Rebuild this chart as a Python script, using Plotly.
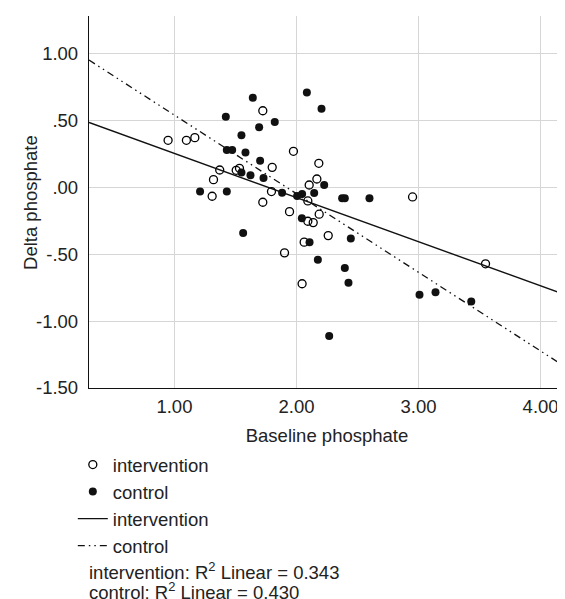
import numpy as np
import plotly.graph_objects as go

# ---- data ----
intervention_baseline = [0.948, 1.098, 1.167, 1.724, 1.975, 1.371, 1.506, 1.533, 1.801, 1.320,
                         2.183, 2.104, 2.167, 1.309, 1.795, 1.724, 1.943, 2.093, 2.137, 2.186,
                         2.063, 2.260, 1.902, 2.046, 2.093, 2.951, 3.549]
intervention_delta = [0.351, 0.351, 0.371, 0.572, 0.269, 0.129, 0.127, 0.142, 0.149, 0.057,
                      0.179, 0.017, 0.062, -0.067, -0.032, -0.112, -0.182, -0.254, -0.264, -0.201,
                      -0.410, -0.361, -0.490, -0.721, -0.102, -0.072, -0.572]

control_baseline = [1.642, 1.421, 1.694, 1.822, 2.085, 2.205, 1.549, 1.429, 1.473, 1.582,
                    1.549, 1.623, 1.702, 1.730, 2.227, 1.210, 1.429, 1.882, 2.005, 2.046,
                    2.145, 2.044, 1.563, 2.107, 2.175, 2.268, 2.374, 2.396, 2.598, 2.445,
                    2.396, 2.426, 3.008, 3.139, 3.432]
control_delta = [0.669, 0.527, 0.448, 0.487, 0.709, 0.587, 0.388, 0.278, 0.278, 0.259,
                 0.110, 0.090, 0.199, 0.070, 0.017, -0.032, -0.032, -0.040, -0.065, -0.050,
                 -0.042, -0.231, -0.341, -0.410, -0.542, -1.112, -0.082, -0.082, -0.082, -0.383,
                 -0.604, -0.714, -0.804, -0.784, -0.853]

x_tick_vals = [1.0, 2.0, 3.0, 4.0]
x_tick_text = ["1.00", "2.00", "3.00", "4.00"]
y_tick_vals = [1.0, 0.5, 0.0, -0.5, -1.0, -1.5]
y_tick_text = ["1.00", ".50", ".00", "-.50", "-1.00", "-1.50"]

x_title = "Baseline phosphate"
y_title = "Delta phosphate"
r2_intervention = "0.343"
r2_control = "0.430"

X_RANGE = [0.3, 4.2]
Y_RANGE = [-1.5, 1.28]

FONT = "Liberation Sans, Arial, Helvetica, sans-serif"
FS = 18.5
TXT = "#222222"

# regression lines fitted to the data
xi = np.array(intervention_baseline); yi = np.array(intervention_delta)
xc = np.array(control_baseline); yc = np.array(control_delta)
bi = np.polyfit(xi, yi, 1)
bc = np.polyfit(xc, yc, 1)
line_x = np.array(X_RANGE)

fig = go.Figure()
fig.add_trace(go.Scatter(
    x=intervention_baseline, y=intervention_delta, mode="markers", name="intervention",
    marker=dict(symbol="circle-open", size=8, color="black", line=dict(width=1.3, color="black")),
))
fig.add_trace(go.Scatter(
    x=control_baseline, y=control_delta, mode="markers", name="control",
    marker=dict(symbol="circle", size=8, color="#111111"),
))
fig.add_trace(go.Scatter(
    x=line_x, y=np.polyval(bi, line_x), mode="lines", name="intervention",
    line=dict(color="#111111", width=1.4),
))
fig.add_trace(go.Scatter(
    x=line_x, y=np.polyval(bc, line_x), mode="lines", name="control",
    line=dict(color="#111111", width=1.3, dash="7px,4px,1.5px,4px,1.5px,4px"),
))

# the page body has an 8px margin, so the figure is offset by (8, 8) in the window
fig.update_layout(
    width=565, height=599,
    margin=dict(l=81, r=8, t=8, b=219, autoexpand=False),
    paper_bgcolor="white", plot_bgcolor="white",
    font=dict(family=FONT, size=FS, color=TXT),
    showlegend=True,
    legend=dict(
        x=-0.034, y=-0.156, xanchor="left", yanchor="top",
        font=dict(family=FONT, size=FS, color=TXT),
        bgcolor="rgba(0,0,0,0)", tracegroupgap=0, itemwidth=30,
    ),
    xaxis=dict(
        range=X_RANGE, tickvals=x_tick_vals, ticktext=x_tick_text,
        showgrid=True, gridcolor="#d6d6d6", gridwidth=1.2,
        showline=True, linecolor="#111111", linewidth=1.3,
        zeroline=False, ticks="", automargin=False, ticklabelstandoff=2,
        title=dict(text=x_title, font=dict(family=FONT, size=FS, color=TXT), standoff=12),
    ),
    yaxis=dict(
        range=Y_RANGE, tickvals=y_tick_vals, ticktext=y_tick_text,
        showgrid=True, gridcolor="#d6d6d6", gridwidth=1.2,
        showline=True, linecolor="#111111", linewidth=1.3,
        zeroline=False, ticks="", ticklabelstandoff=6, automargin=False,
    ),
)

fig.add_annotation(
    text=y_title, textangle=-90,
    xref="paper", yref="paper", x=-0.124, y=0.5, xanchor="center", yanchor="middle",
    showarrow=False, font=dict(family=FONT, size=FS, color=TXT),
)
fig.add_annotation(
    text="intervention: R<sup>2</sup> Linear = " + r2_intervention,
    xref="paper", yref="paper", x=-0.005, y=-0.492, xanchor="left", yanchor="middle",
    showarrow=False, font=dict(family=FONT, size=FS, color=TXT),
)
fig.add_annotation(
    text="control: R<sup>2</sup> Linear = " + r2_control,
    xref="paper", yref="paper", x=-0.005, y=-0.546, xanchor="left", yanchor="middle",
    showarrow=False, font=dict(family=FONT, size=FS, color=TXT),
)

fig.write_html("out.html")
